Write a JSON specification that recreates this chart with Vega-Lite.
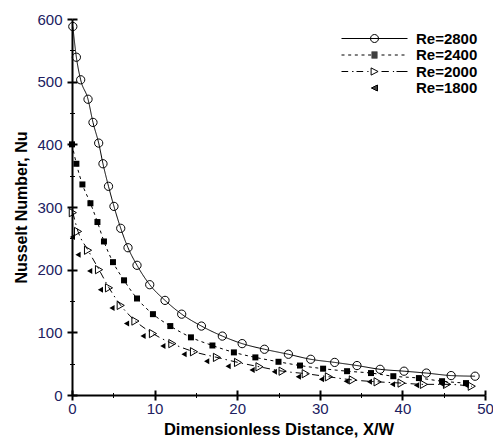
{
  "$schema": "https://vega.github.io/schema/vega-lite/v6.json",
  "width": 413,
  "height": 376,
  "autosize": {"type": "none"},
  "padding": {"left": 72, "top": 19, "right": 8, "bottom": 46},
  "background": "white",
  "config": {
    "view": {"stroke": null},
    "axis": {"grid": false},
    "font": "Liberation Sans"
  },
  "data": {
    "values": [
      {"Re": "Re=2800", "x": 0.1, "nu": 588},
      {"Re": "Re=2800", "x": 0.53, "nu": 539},
      {"Re": "Re=2800", "x": 1.05, "nu": 503},
      {"Re": "Re=2800", "x": 1.94, "nu": 472},
      {"Re": "Re=2800", "x": 2.54, "nu": 435},
      {"Re": "Re=2800", "x": 3.23, "nu": 402},
      {"Re": "Re=2800", "x": 3.75, "nu": 369},
      {"Re": "Re=2800", "x": 4.42, "nu": 333},
      {"Re": "Re=2800", "x": 5.08, "nu": 301},
      {"Re": "Re=2800", "x": 5.9, "nu": 266},
      {"Re": "Re=2800", "x": 6.78, "nu": 235},
      {"Re": "Re=2800", "x": 7.87, "nu": 207},
      {"Re": "Re=2800", "x": 9.41, "nu": 176},
      {"Re": "Re=2800", "x": 11.26, "nu": 151},
      {"Re": "Re=2800", "x": 13.28, "nu": 129},
      {"Re": "Re=2800", "x": 15.67, "nu": 110},
      {"Re": "Re=2800", "x": 18.2, "nu": 94},
      {"Re": "Re=2800", "x": 20.6, "nu": 82},
      {"Re": "Re=2800", "x": 23.3, "nu": 73},
      {"Re": "Re=2800", "x": 26.2, "nu": 65},
      {"Re": "Re=2800", "x": 28.9, "nu": 57},
      {"Re": "Re=2800", "x": 31.8, "nu": 52},
      {"Re": "Re=2800", "x": 34.5, "nu": 47},
      {"Re": "Re=2800", "x": 37.3, "nu": 41},
      {"Re": "Re=2800", "x": 40.2, "nu": 38},
      {"Re": "Re=2800", "x": 42.9, "nu": 35},
      {"Re": "Re=2800", "x": 45.9, "nu": 31},
      {"Re": "Re=2800", "x": 48.8, "nu": 30},
      {"Re": "Re=2400", "x": 0.0, "nu": 400},
      {"Re": "Re=2400", "x": 0.53, "nu": 369},
      {"Re": "Re=2400", "x": 1.26, "nu": 336},
      {"Re": "Re=2400", "x": 2.23, "nu": 306},
      {"Re": "Re=2400", "x": 3.08, "nu": 276},
      {"Re": "Re=2400", "x": 3.87, "nu": 245},
      {"Re": "Re=2400", "x": 4.96, "nu": 212},
      {"Re": "Re=2400", "x": 6.3, "nu": 183},
      {"Re": "Re=2400", "x": 7.87, "nu": 154},
      {"Re": "Re=2400", "x": 9.8, "nu": 129},
      {"Re": "Re=2400", "x": 11.9, "nu": 110},
      {"Re": "Re=2400", "x": 14.4, "nu": 92},
      {"Re": "Re=2400", "x": 17.0, "nu": 79},
      {"Re": "Re=2400", "x": 19.6, "nu": 68},
      {"Re": "Re=2400", "x": 22.2, "nu": 60},
      {"Re": "Re=2400", "x": 25.0, "nu": 53},
      {"Re": "Re=2400", "x": 27.6, "nu": 47},
      {"Re": "Re=2400", "x": 30.4, "nu": 42},
      {"Re": "Re=2400", "x": 33.3, "nu": 38},
      {"Re": "Re=2400", "x": 36.2, "nu": 35},
      {"Re": "Re=2400", "x": 38.9, "nu": 30},
      {"Re": "Re=2400", "x": 42.0, "nu": 27},
      {"Re": "Re=2400", "x": 44.8, "nu": 22},
      {"Re": "Re=2400", "x": 47.7, "nu": 19},
      {"Re": "Re=2000", "x": 0.1, "nu": 291},
      {"Re": "Re=2000", "x": 0.73, "nu": 261},
      {"Re": "Re=2000", "x": 1.94, "nu": 231},
      {"Re": "Re=2000", "x": 3.27, "nu": 200},
      {"Re": "Re=2000", "x": 4.48, "nu": 171},
      {"Re": "Re=2000", "x": 5.9, "nu": 143},
      {"Re": "Re=2000", "x": 7.68, "nu": 118},
      {"Re": "Re=2000", "x": 9.8, "nu": 98},
      {"Re": "Re=2000", "x": 12.15, "nu": 82},
      {"Re": "Re=2000", "x": 14.77, "nu": 69},
      {"Re": "Re=2000", "x": 17.55, "nu": 60},
      {"Re": "Re=2000", "x": 20.1, "nu": 52},
      {"Re": "Re=2000", "x": 22.7, "nu": 45},
      {"Re": "Re=2000", "x": 25.5, "nu": 38},
      {"Re": "Re=2000", "x": 28.3, "nu": 34},
      {"Re": "Re=2000", "x": 31.1, "nu": 29},
      {"Re": "Re=2000", "x": 34.0, "nu": 24},
      {"Re": "Re=2000", "x": 37.0, "nu": 21},
      {"Re": "Re=2000", "x": 39.9, "nu": 19},
      {"Re": "Re=2000", "x": 42.6, "nu": 17},
      {"Re": "Re=2000", "x": 45.4, "nu": 17},
      {"Re": "Re=2000", "x": 48.4, "nu": 14},
      {"Re": "Re=1800", "x": 0.05, "nu": 252},
      {"Re": "Re=1800", "x": 0.73, "nu": 224},
      {"Re": "Re=1800", "x": 2.14, "nu": 198},
      {"Re": "Re=1800", "x": 3.44, "nu": 168},
      {"Re": "Re=1800", "x": 4.84, "nu": 139},
      {"Re": "Re=1800", "x": 6.6, "nu": 114},
      {"Re": "Re=1800", "x": 8.6, "nu": 94},
      {"Re": "Re=1800", "x": 11.0, "nu": 78},
      {"Re": "Re=1800", "x": 13.56, "nu": 65},
      {"Re": "Re=1800", "x": 16.3, "nu": 54},
      {"Re": "Re=1800", "x": 18.9, "nu": 46},
      {"Re": "Re=1800", "x": 21.8, "nu": 40},
      {"Re": "Re=1800", "x": 24.5, "nu": 37},
      {"Re": "Re=1800", "x": 27.4, "nu": 29},
      {"Re": "Re=1800", "x": 30.2, "nu": 25},
      {"Re": "Re=1800", "x": 33.2, "nu": 22},
      {"Re": "Re=1800", "x": 36.0, "nu": 21},
      {"Re": "Re=1800", "x": 38.8, "nu": 17},
      {"Re": "Re=1800", "x": 41.7, "nu": 15.5},
      {"Re": "Re=1800", "x": 44.8, "nu": 17},
      {"Re": "Re=1800", "x": 47.7, "nu": 15.5}
    ]
  },
  "resolve": {"axis": {"x": "independent", "y": "independent"}, "scale": {"shape": "independent"}},
  "layer": [
    {
      "transform": [{"filter": "datum.Re !== 'Re=1800'"}],
      "mark": {"type": "line", "color": "black", "strokeWidth": 1, "interpolate": "monotone"},
      "encoding": {
        "x": {"field": "x", "type": "quantitative", "scale": {"domain": [0, 50], "nice": false},
          "axis": {"orient": "bottom", "values": [0, 10, 20, 30, 40, 50], "tickSize": 5, "tickWidth": 2, "tickColor": "black",
            "domainColor": "black", "domainWidth": 2, "labelFont": "Liberation Sans", "labelFontSize": 15, "labelColor": "#202060",
            "labelPadding": 1, "title": "Dimensionless Distance, X/W", "titleFont": "Liberation Sans", "titleFontSize": 16.5,
            "titleFontWeight": "bold", "titleColor": "black", "titlePadding": 5, "labelFlush": false}},
        "y": {"field": "nu", "type": "quantitative", "scale": {"domain": [0, 600], "nice": false},
          "axis": {"orient": "left", "values": [0, 100, 200, 300, 400, 500, 600], "tickSize": 5, "tickWidth": 2, "tickColor": "black",
            "domainColor": "black", "domainWidth": 2, "labelFont": "Liberation Sans", "labelFontSize": 15, "labelColor": "#202060",
            "labelPadding": 5, "title": "Nusselt Number, Nu", "titleFont": "Liberation Sans", "titleFontSize": 16,
            "titleFontWeight": "bold", "titleColor": "black", "titlePadding": 7, "labelFlush": false}},
        "detail": {"field": "Re", "type": "nominal"},
        "strokeDash": {"field": "Re", "type": "nominal", "legend": null,
          "scale": {"domain": ["Re=2800", "Re=2400", "Re=2000"], "range": [[1, 0], [3, 3.5], [7, 4, 1.5, 4]]}}
      }
    },
    {
      "transform": [{"filter": "datum.Re === 'Re=2800' || datum.Re === 'Re=2000'"}],
      "mark": {"type": "point", "filled": false, "color": "black", "strokeWidth": 1, "opacity": 1, "size": 68},
      "encoding": {
        "x": {"field": "x", "type": "quantitative",
          "axis": {"orient": "bottom", "values": [0, 10, 20, 30, 40, 50], "offset": -5, "tickSize": 5, "tickWidth": 2, "tickColor": "black",
            "domain": false, "labels": false, "title": null}},
        "y": {"field": "nu", "type": "quantitative",
          "axis": {"orient": "left", "values": [0, 100, 200, 300, 400, 500, 600], "offset": -5, "tickSize": 5, "tickWidth": 2, "tickColor": "black",
            "domain": false, "labels": false, "title": null}},
        "shape": {"field": "Re", "type": "nominal", "legend": null,
          "scale": {"domain": ["Re=2800", "Re=2000"], "range": ["circle", "triangle-right"]}}
      }
    },
    {
      "transform": [{"filter": "datum.Re === 'Re=2400' || datum.Re === 'Re=1800'"}],
      "mark": {"type": "point", "filled": true, "color": "black", "opacity": 1, "size": 36},
      "encoding": {
        "x": {"field": "x", "type": "quantitative",
          "axis": {"orient": "bottom", "values": [5, 15, 25, 35, 45], "offset": -2.5, "tickSize": 5, "tickWidth": 1, "tickColor": "black",
            "domain": false, "labels": false, "title": null}},
        "y": {"field": "nu", "type": "quantitative",
          "axis": {"orient": "left", "values": [50, 150, 250, 350, 450, 550], "offset": -2.5, "tickSize": 5, "tickWidth": 1, "tickColor": "black",
            "domain": false, "labels": false, "title": null}},
        "shape": {"field": "Re", "type": "nominal", "legend": null,
          "scale": {"domain": ["Re=2400", "Re=1800"], "range": ["square", "triangle-left"]}}
      }
    },
    {
      "mark": {"type": "point", "filled": false, "color": "black", "strokeWidth": 1, "opacity": 0, "size": 64},
      "encoding": {
        "x": {"field": "x", "type": "quantitative", "axis": null},
        "y": {"field": "nu", "type": "quantitative", "axis": null},
        "shape": {"field": "Re", "type": "nominal",
          "scale": {"domain": ["Re=2800", "Re=2400", "Re=2000", "Re=1800"],
            "range": [
              "M-8.25,0L8.25,0M1,0A1,1,0,1,1,-1,0A1,1,0,1,1,1,0Z",
              "M-8.25,0L-7.5,0M-6.58,0L-5.83,0M-4.92,0L-4.17,0M-3.25,0L-2.5,0M-1.6,0L-0.85,0M1.75,0L2.5,0M3.42,0L4.17,0M5.08,0L5.83,0M6.75,0L7.5,0M-0.75,-0.75L0.75,-0.75M-0.75,-0.5L0.75,-0.5M-0.75,-0.25L0.75,-0.25M-0.75,0L0.75,0M-0.75,0.25L0.75,0.25M-0.75,0.5L0.75,0.5M-0.75,0.75L0.75,0.75",
              "M-8.25,0L-6.58,0M-5.6,0L-5.25,0M-4.5,0L-2.83,0M-1.8,0L-1.5,0M1.75,0L3.58,0M4.6,0L4.9,0M5.5,0L8.25,0M-0.85,-0.9L0.9,0L-0.85,0.9Z",
              "M0.75,-0.75L-0.75,0L0.75,0.75ZM0.25,-0.5L0.75,-0.5M-0.25,-0.25L0.75,-0.25M-0.75,0L0.75,0M-0.25,0.25L0.75,0.25M0.25,0.5L0.75,0.5"
            ]},
          "legend": {
            "title": null, "orient": "none", "legendX": 295, "legendY": 12, "padding": 0, "rowPadding": 0.5,
            "labelFont": "Liberation Sans", "labelFontSize": 15, "labelFontWeight": "bold", "labelColor": "black", "labelOffset": 34,
            "symbolSize": 64, "symbolStrokeWidth": 1, "symbolOpacity": 1, "symbolStrokeColor": "black"}}
      }
    }
  ]
}
